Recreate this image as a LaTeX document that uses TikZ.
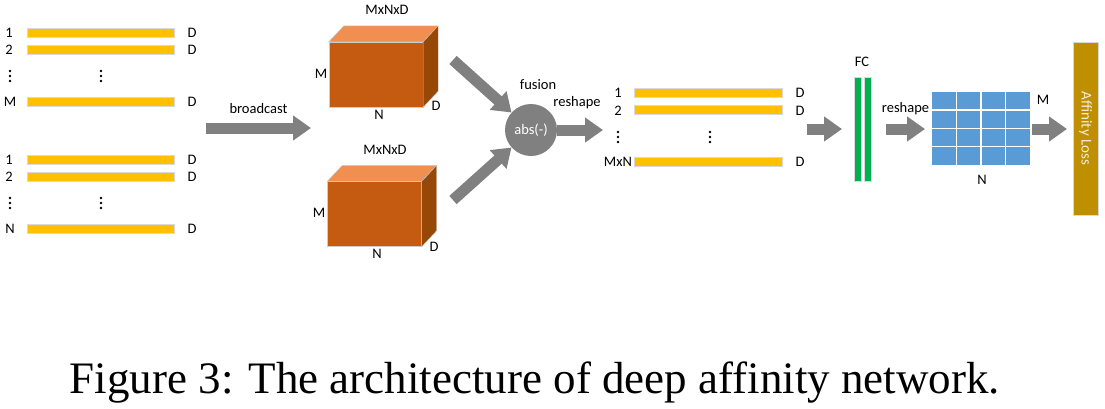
\documentclass[tikz,border=0pt]{standalone}
\usepackage{fontspec}
\setmainfont{Carlito}
\newfontfamily\capfont{Liberation Serif}
\usetikzlibrary{arrows.meta,positioning,calc}
\definecolor{barYellow}{HTML}{FFC000}
\definecolor{cubeFront}{HTML}{C55A11}
\definecolor{cubeTop}{HTML}{F08F4F}
\definecolor{cubeSide}{HTML}{974706}
\definecolor{gridBlue}{HTML}{5B9BD5}
\definecolor{fcGreen}{HTML}{00B050}
\definecolor{lossGold}{HTML}{BF8F00}
\definecolor{arrowGray}{HTML}{808080}

\begin{document}
\begin{tikzpicture}[x=1pt, y=-1pt, font=\fontsize{14.5}{17}\selectfont,
    bar/.style = {draw=black!15, fill=barYellow, minimum width=147pt, minimum height=9pt, inner sep=0pt},
    face/.style = {draw=black!20, fill=cubeFront, minimum width=94pt, minimum height=65pt, inner sep=0pt},
    fc/.style = {draw=black!15, fill=fcGreen, minimum width=7pt, minimum height=104pt, inner sep=0pt},
    fat/.style = {draw=arrowGray, line width=11pt, -{Triangle[length=18pt,width=24pt]}},
    tag/.style = {inner sep=1pt},
    dots/.pic = {\foreach \d in {-5,0,5} \fill (0,\d) circle (1.4pt);}]

    \useasboundingbox (0,0) rectangle (1105,408);

    % left: the two feature sets
    \node[bar] (m1) at (100.5,32.5) {};
    \node[bar] (m2) at (100.5,49.5) {};
    \node[bar] (mM) at (100.5,101.5) {};
    \node[bar] (n1) at (100.5,160) {};
    \node[bar] (n2) at (100.5,177) {};
    \node[bar] (nN) at (100.5,228.5) {};
    \node[tag] at (9,32.5) {1};    \node[tag] at (192,32.5) {D};
    \node[tag] at (9,49.5) {2};    \node[tag] at (192,49.5) {D};
    \node[tag] at (10,101.5) {M};  \node[tag] at (192,101.5) {D};
    \node[tag] at (9,160) {1};     \node[tag] at (192,160) {D};
    \node[tag] at (9,177) {2};     \node[tag] at (192,177) {D};
    \node[tag] at (10,228.5) {N};  \node[tag] at (192,228.5) {D};
    \pic at (10,76) {dots};   \pic at (101,76) {dots};
    \pic at (10,203) {dots};  \pic at (101,203) {dots};

    \coordinate (bcA) at (206,128);
    \coordinate (bcB) at (311,128);
    \draw[fat] (bcA) -- node[above=8pt, tag] {broadcast} (bcB);

    % the two cubes
    \node[face] (cubeA) at (376,74.5) {};
    \node[face] (cubeB) at (374.5,214) {};
    \foreach \c in {cubeA, cubeB} {
        \draw[draw=black!20, fill=cubeTop] (\c.north west) -- ++(15,-16) -- ($(\c.north east)+(15,-16)$) -- (\c.north east) -- cycle;
        \draw[draw=black!20, fill=cubeSide] (\c.north east) -- ++(15,-16) -- ($(\c.south east)+(15,-16)$) -- (\c.south east) -- cycle;
    }
    \node[tag] at (387,10) {MxNxD};
    \node[tag] at (321,74) {M};
    \node[tag] at (379,115) {N};
    \node[tag] at (436,106) {D};
    \node[tag] at (385,150) {MxNxD};
    \node[tag] at (319,213) {M};
    \node[tag] at (377,254) {N};
    \node[tag] at (434,247) {D};

    % fusion
    \node[circle, fill=arrowGray, minimum size=52pt, inner sep=0pt, text=white] (fuse) at (531,130) {abs(-)};
    \coordinate (inA) at (453,60);
    \coordinate (inB) at (453,200);
    \draw[fat] (inA) -- (fuse);
    \draw[fat] (inB) -- (fuse);
    \node[tag] at (538,85) {fusion};
    \node[tag] at (577,103) {reshape};
    \coordinate (rsA) at (603,130);
    \draw[fat] (fuse) -- (rsA);

    % pair features
    \node[bar, minimum width=148pt] (p1) at (708,92.5) {};
    \node[bar, minimum width=148pt] (p2) at (708,110) {};
    \node[bar, minimum width=148pt] (pMN) at (708,162) {};
    \node[tag] at (618,93) {1};     \node[tag] at (800,93) {D};
    \node[tag] at (618,111) {2};    \node[tag] at (800,111) {D};
    \node[tag] at (618,162) {MxN};  \node[tag] at (800,162) {D};
    \pic at (618,137) {dots};  \pic at (710,137) {dots};

    \coordinate (fcA) at (807,129);
    \coordinate (fcB) at (842,129);
    \draw[fat] (fcA) -- (fcB);

    % FC layers
    \node[fc] (fc1) at (857.5,129) {};
    \node[fc] (fc2) at (867.5,129) {};
    \node[tag] at (862,62) {FC};

    \coordinate (rmA) at (886,129);
    \coordinate (rmB) at (925,129);
    \draw[fat] (rmA) -- node[above=8pt, tag] {reshape} (rmB);

    % affinity matrix
    \node[fill=gridBlue, minimum width=98pt, minimum height=73pt, inner sep=0pt] (aff) at (981,128.5) {};
    \foreach \k in {1,2,3} {
        \draw[white, line width=1.5pt] ($(aff.north west)+(24.5*\k,0)$) -- ($(aff.south west)+(24.5*\k,0)$);
        \draw[white, line width=1.5pt] ($(aff.north west)+(0,18.25*\k)$) -- ($(aff.north east)+(0,18.25*\k)$);
    }
    \node[tag] at (1043,100) {M};
    \node[tag] at (982,180) {N};

    \coordinate (lsA) at (1032,129);
    \coordinate (lsB) at (1067,129);
    \draw[fat] (lsA) -- (lsB);

    \node[fill=lossGold, draw=black!15, rotate=-90, minimum width=173pt, minimum height=25pt, inner sep=0pt, text=white!85!lossGold, font=\fontsize{15}{17}\selectfont] (loss) at (1085.5,128.5) {Affinity Loss};

    % caption
    \node[anchor=base, font=\capfont\fontsize{45}{50}\selectfont] (cap) at (535,393) {Figure 3: The architecture of deep affinity network.};

\end{tikzpicture}
\end{document}
